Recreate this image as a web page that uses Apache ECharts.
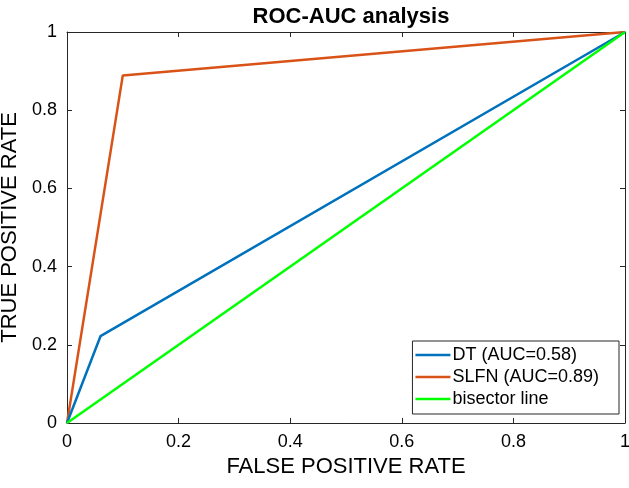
<!DOCTYPE html>
<html><head><meta charset="utf-8">
<script src="https://cdn.jsdelivr.net/npm/echarts@6/dist/echarts.min.js"></script>
<style>html,body{margin:0;padding:0;background:#fff}#c{width:629px;height:488px}</style>
</head><body><div id="c"></div>
<script>
const dtFpr = [0, 0.06, 1];
const dtTpr = [0, 0.222, 1];
const slfnFpr = [0, 0.1, 1];
const slfnTpr = [0, 0.889, 1];
const bisFpr = [0, 1];
const bisTpr = [0, 1];
const seriesNames = ['DT (AUC=0.58)', 'SLFN (AUC=0.89)', 'bisector line'];
const seriesColors = ['#0072BD', '#D95319', '#00FF00'];

const zip = (a, b) => a.map((v, i) => [v, b[i]]);
const font = 'Liberation Sans, Arial, Helvetica, sans-serif';
const axCol = '#262626';
const chart = echarts.init(document.getElementById('c'), null, {renderer: 'canvas'});
const baseAxis = {
  min: 0, max: 1, interval: 0.2,
  axisLine: {show: true, onZero: false, lineStyle: {color: axCol, width: 1}},
  axisTick: {show: true, inside: true, length: 5, lineStyle: {color: axCol}},
  splitLine: {show: false},
};
const fmt = v => (Math.abs(v) < 1e-9 ? '0' : (Math.abs(v - 1) < 1e-9 ? '1' : v.toFixed(1)));
chart.setOption({
  animation: false,
  backgroundColor: '#fff',
  title: {text: 'ROC-AUC analysis', left: 346, top: 1, textAlign: 'center',
    textStyle: {fontFamily: font, fontSize: 22, fontWeight: 'bold', color: '#000'}},
  grid: {left: 67, right: 4, top: 32, bottom: 65, containLabel: false, outerBoundsMode: 'none'},
  legend: {
    orient: 'vertical', right: 10, bottom: 74,
    backgroundColor: '#fff', borderColor: axCol, borderWidth: 1,
    padding: [5, 20, 6, 3], itemGap: 4, itemWidth: 35, itemHeight: 18,
    textStyle: {fontFamily: font, fontSize: 18, color: '#000', padding: [0, 0, 0, -3]},
    data: seriesNames.map(n => ({name: n, icon: 'path://M0,0L35,0L35,2.6L0,2.6Z'}))
  },
  xAxis: [
    Object.assign({}, baseAxis, {type: 'value', position: 'bottom',
      name: 'FALSE POSITIVE RATE', nameLocation: 'middle', nameGap: 33,
      nameTextStyle: {fontFamily: font, fontSize: 22, color: '#000'},
      axisLabel: {fontFamily: font, fontSize: 18, color: '#000', margin: 10, formatter: fmt}}),
    Object.assign({}, baseAxis, {type: 'value', position: 'top', axisLabel: {show: false}})
  ],
  yAxis: [
    Object.assign({}, baseAxis, {type: 'value', position: 'left',
      name: 'TRUE POSITIVE RATE', nameLocation: 'middle', nameGap: 44,
      nameTextStyle: {fontFamily: font, fontSize: 22, color: '#000'},
      axisLabel: {fontFamily: font, fontSize: 18, color: '#000', margin: 10, formatter: fmt}}),
    Object.assign({}, baseAxis, {type: 'value', position: 'right', axisLabel: {show: false}})
  ],
  series: [
    {name: seriesNames[0], type: 'line', data: zip(dtFpr, dtTpr), symbol: 'none', lineStyle: {width: 2.5, color: seriesColors[0]}, itemStyle: {color: seriesColors[0]}, z: 3},
    {name: seriesNames[1], type: 'line', data: zip(slfnFpr, slfnTpr), symbol: 'none', lineStyle: {width: 2.5, color: seriesColors[1]}, itemStyle: {color: seriesColors[1]}, z: 2},
    {name: seriesNames[2], type: 'line', data: zip(bisFpr, bisTpr), symbol: 'none', lineStyle: {width: 2.5, color: seriesColors[2]}, itemStyle: {color: seriesColors[2]}, z: 4}
  ]
});
</script></body></html>
